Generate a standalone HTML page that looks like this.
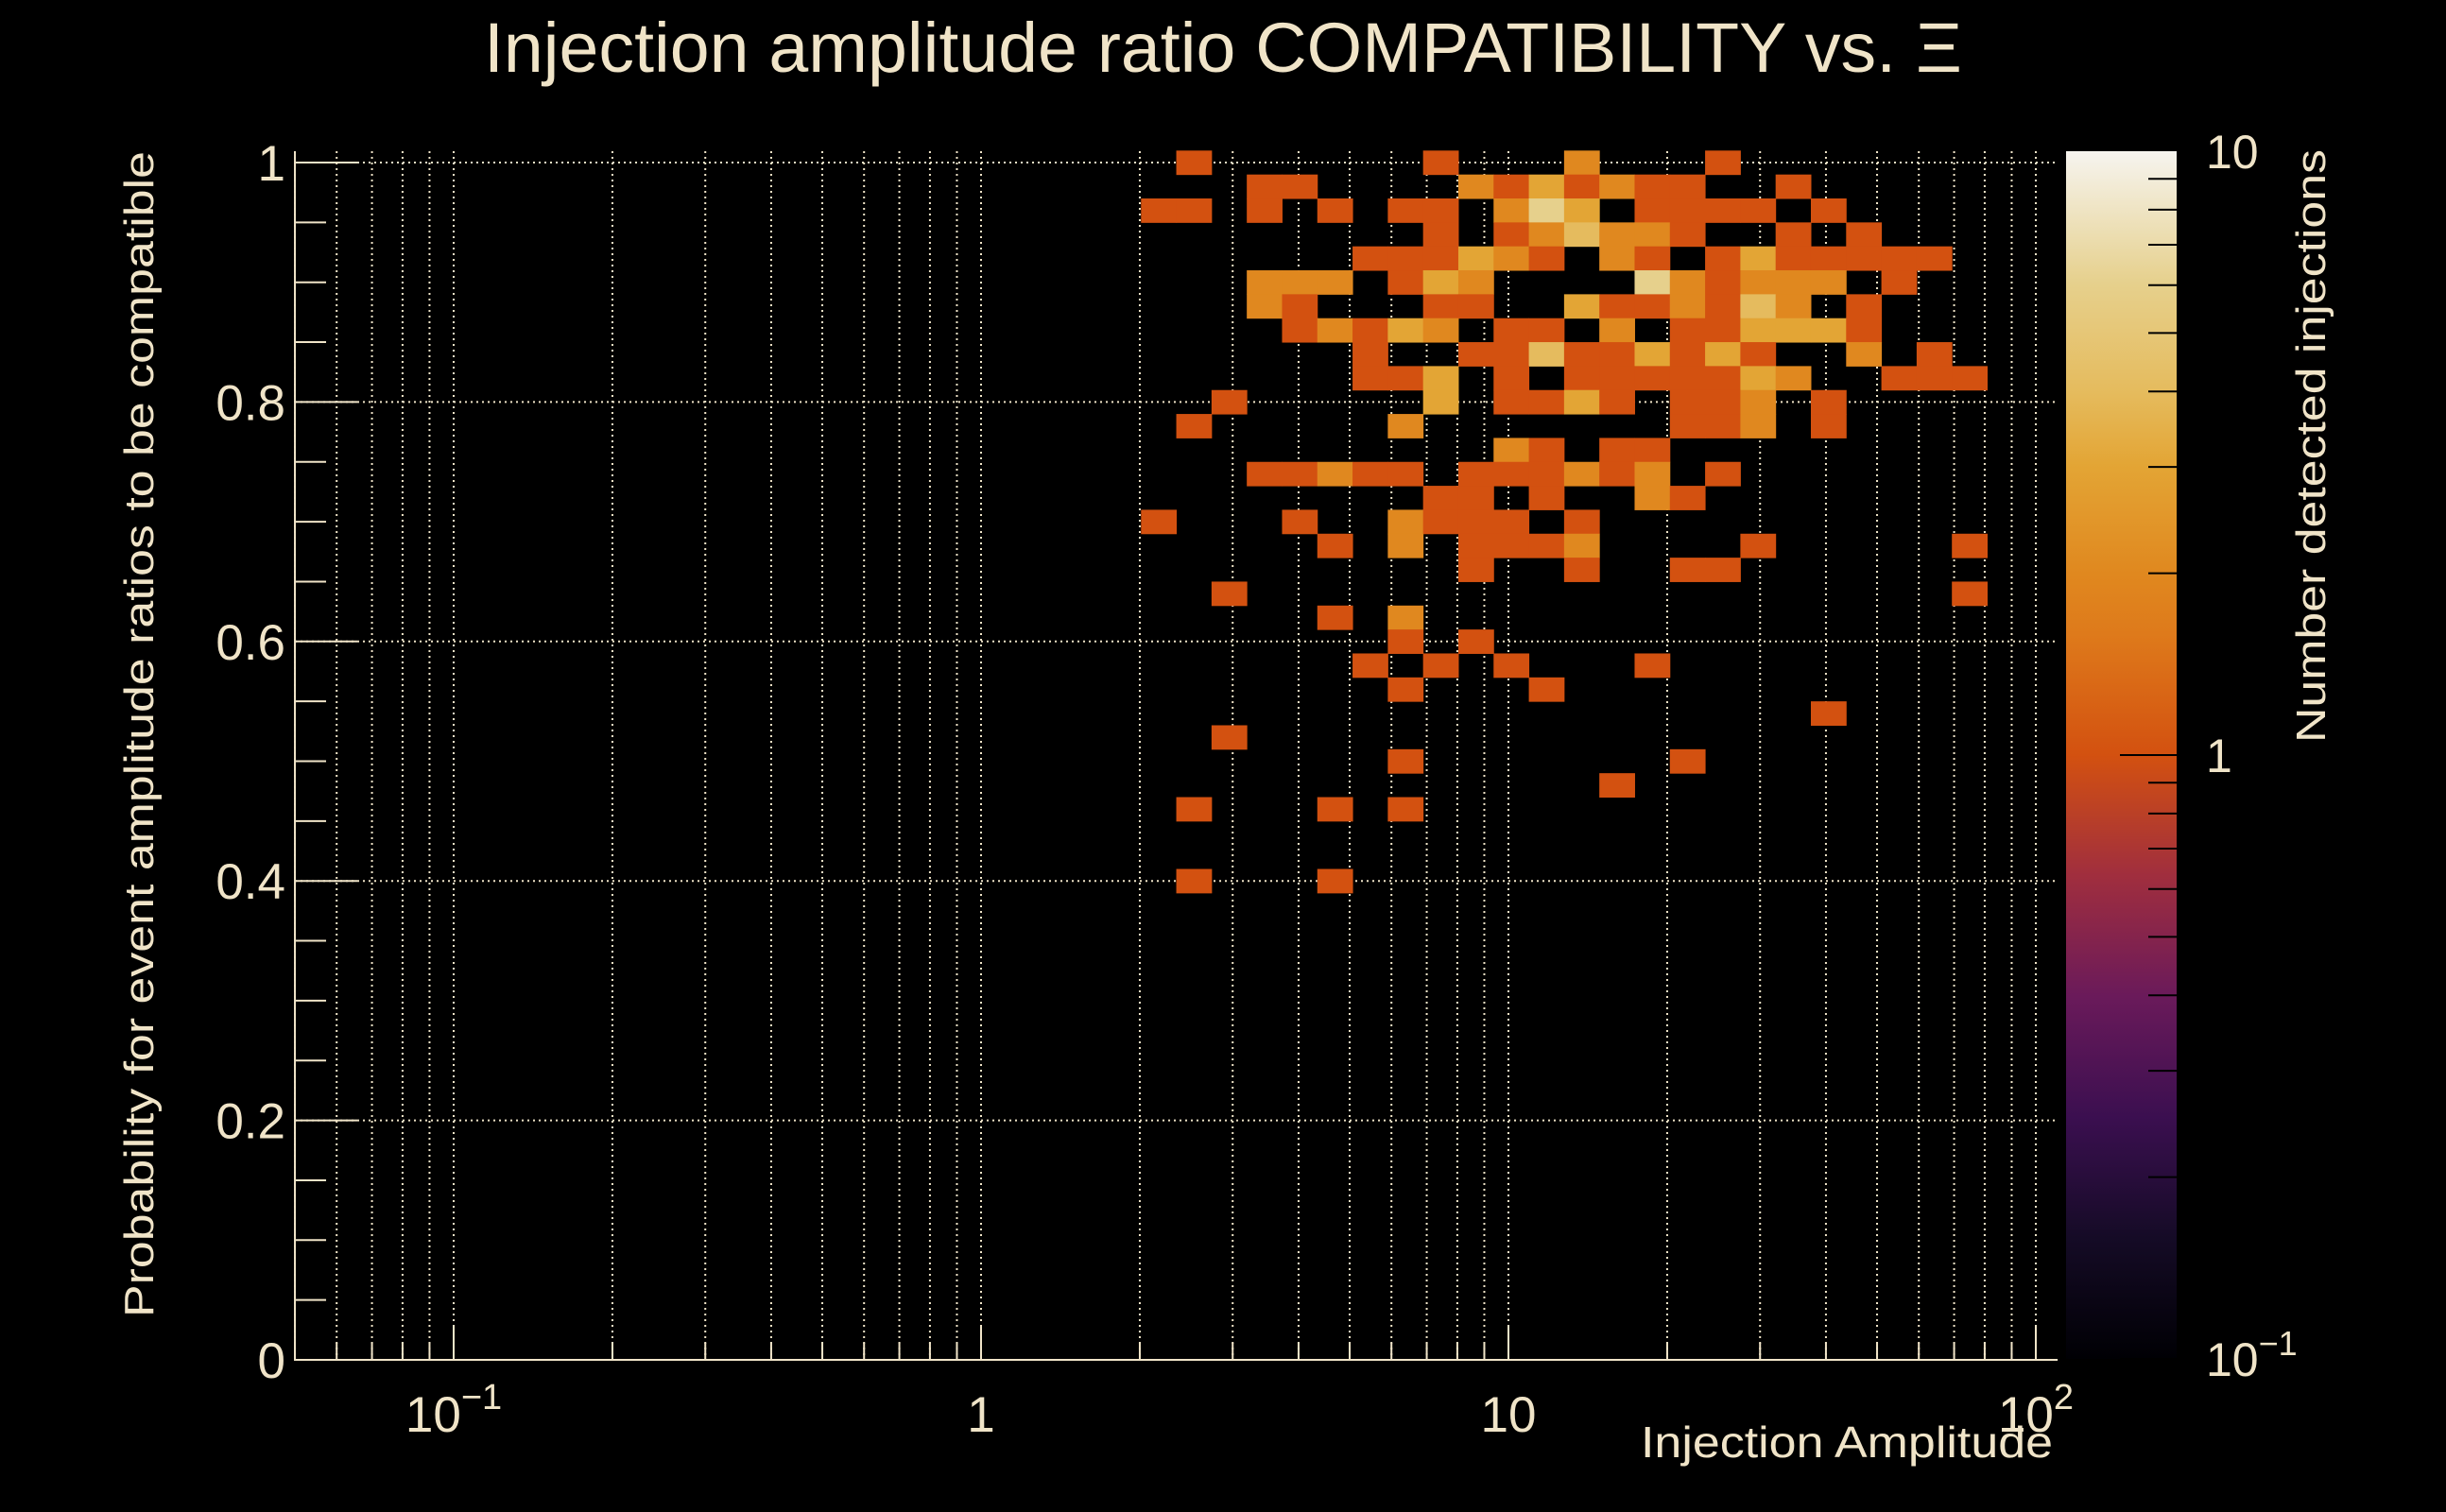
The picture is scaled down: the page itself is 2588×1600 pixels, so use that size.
<!DOCTYPE html>
<html><head><meta charset="utf-8"><style>
html,body{margin:0;padding:0;background:#000;}
svg{display:block;font-family:"Liberation Sans",sans-serif;}
</style></head><body>
<svg id="chart" width="2588" height="1600" viewBox="0 0 2588 1600" xmlns="http://www.w3.org/2000/svg">
<defs>
<linearGradient id="cbgrad" x1="0" y1="1" x2="0" y2="0">
<stop offset="0" stop-color="#000004"/>
<stop offset="0.1" stop-color="#150b26"/>
<stop offset="0.2" stop-color="#3b0f50"/>
<stop offset="0.3" stop-color="#6a1a5a"/>
<stop offset="0.4" stop-color="#a02e3e"/>
<stop offset="0.5" stop-color="#d35110"/>
<stop offset="0.6" stop-color="#de7a1b"/>
<stop offset="0.65" stop-color="#e0881f"/>
<stop offset="0.74" stop-color="#e3a535"/>
<stop offset="0.8" stop-color="#e5bb5d"/>
<stop offset="0.89" stop-color="#e6d08c"/>
<stop offset="1" stop-color="#f6f4ef"/>
</linearGradient>
</defs>
<rect width="2588" height="1600" fill="#000"/>
<text x="1294" y="76" text-anchor="middle" font-size="74" fill="#f0e4c8" textLength="1564" lengthAdjust="spacingAndGlyphs">Injection amplitude ratio COMPATIBILITY vs.  Ξ</text>
<g id="grid"></g>
<g id="cells"></g>
<g id="axes"></g>
<g id="colorbar"></g>
<text transform="translate(162,777) rotate(-90)" text-anchor="middle" font-size="44" fill="#f0e4c8" textLength="1234" lengthAdjust="spacingAndGlyphs">Probability for event amplitude ratios to be compatible</text>
<text x="2172" y="1542" text-anchor="end" font-size="46" fill="#f0e4c8" textLength="436" lengthAdjust="spacingAndGlyphs">Injection Amplitude</text>
<text transform="translate(2460,472) rotate(-90)" text-anchor="middle" font-size="44" fill="#f0e4c8" textLength="628" lengthAdjust="spacingAndGlyphs">Number detected injections</text>
</svg>
<script>
// ---- data ----
const probRows = [1.00,0.98,0.96,0.94,0.92,0.90,0.88,0.86,0.84,0.82,0.80,0.78,0.76,0.74,0.72,0.70,0.68,0.66,0.64,0.62,0.60,0.58,0.56,0.54,0.52,0.50,0.48,0.46,0.40];
const ampBins = [
[25,32,36,40],
[27,28,33,34,35,36,37,38,39,42],
[24,25,27,29,31,32,34,35,36,38,39,40,41,43],
[32,34,35,36,37,38,39,42,44],
[30,31,32,33,34,35,37,38,40,41,42,43,44,45,46],
[27,28,29,31,32,33,38,39,40,41,42,43,45],
[27,28,32,33,36,37,38,39,40,41,42,44],
[28,29,30,31,32,34,35,37,39,40,41,42,43,44],
[30,33,34,35,36,37,38,39,40,41,44,46],
[30,31,32,34,36,37,38,39,40,41,42,45,46,47],
[26,32,34,35,36,37,39,40,41,43],
[25,31,39,40,41,43],
[34,35,37,38],
[27,28,29,30,31,33,34,35,36,37,38,40],
[32,33,35,38,39],
[24,28,31,32,33,34,36],
[29,31,33,34,35,36,41,47],
[33,36,39,40],
[26,47],
[29,31],
[31,33],
[30,32,34,38],
[31,35],
[43],
[26],
[31,39],
[37],
[25,29,31],
[25,29]
];
const counts = [
[1,1,2,1],
[1,1,2,1,3,1,2,1,1,1],
[1,1,1,1,1,1,2,6,3,1,1,1,1,1],
[1,1,2,4,2,2,1,1,1],
[1,1,1,3,2,1,2,1,1,3,1,1,1,1,1],
[2,2,2,1,3,2,6,2,1,2,2,2,1],
[2,1,1,1,3,1,1,2,1,4,2,1],
[1,2,1,3,2,1,1,2,1,1,3,3,3,1],
[1,1,1,4,1,1,3,1,3,1,2,1],
[1,1,3,1,1,1,1,1,1,3,2,1,1,1],
[1,3,1,1,3,1,1,1,2,1],
[1,2,1,1,2,1],
[2,1,1,1],
[1,1,2,1,1,1,1,1,2,1,2,1],
[1,1,1,2,1],
[1,1,2,1,1,1,1],
[1,2,1,1,1,2,1,1],
[1,1,1,1],
[1,1],
[1,2],
[1,1],
[1,1,1,1],
[1,1],
[1],
[1],
[1,1],
[1],
[1,1,1],
[1,1]
];
const xTickVals = [0.1, 1, 10, 100];
const xTickLabels = ["10", "1", "10", "10"];
const xTickExps = ["−1", "", "", "2"];
const yTickVals = [0, 0.2, 0.4, 0.6, 0.8, 1];
const yTickLabels = ["0", "0.2", "0.4", "0.6", "0.8", "1"];
const zTickVals = [0.1, 1, 10];
const zTickLabels = ["10", "1", "10"];
const zTickExps = ["−1", "", ""];

// ---- axes ----
const NS = "http://www.w3.org/2000/svg";
const X10 = 1596, XD = 558;           // pixel of 10, pixels per decade
const XMIN = 0.05, XMAX = 110, NXB = 50;
const Y0 = 1439, YS = 1267;
const YBW = 0.02;
const xPix = v => X10 + XD * (Math.log10(v) - 1);
const yPix = v => Y0 - YS * v;
const L = xPix(XMIN), R = xPix(XMAX);
const binEdge = k => Math.pow(10, Math.log10(XMIN) + k * (Math.log10(XMAX) - Math.log10(XMIN)) / NXB);
const ZT = 160, ZB = 1438;
const zPix = v => ZB - (ZB - ZT) * (Math.log10(v) + 1) / 2;
const C = "#f0e4c8";

function mk(tag, attrs, parent) {
  const e = document.createElementNS(NS, tag);
  for (const k in attrs) e.setAttribute(k, attrs[k]);
  parent.appendChild(e);
  return e;
}

const grid = document.getElementById('grid');
for (let d = -2; d <= 2; d++) {
  for (let m = 1; m <= 9; m++) {
    const v = m * Math.pow(10, d);
    if (v < XMIN || v > XMAX) continue;
    const x = xPix(v);
    const gl = mk('line', {x1: x, x2: x, y1: 160, y2: Y0, stroke: C, 'stroke-width': 2, 'stroke-dasharray': '2 4'}, grid);
    
    
  }
}
yTickVals.forEach(v => {
  if (v === 0) return;
  const y = yPix(v);
  const gl = mk('line', {x1: L, x2: R, y1: y, y2: y, stroke: C, 'stroke-width': 2, 'stroke-dasharray': '2 4'}, grid);
  
  
});

const stops = [[0,[0,0,4]],[0.1,[21,11,38]],[0.2,[59,15,80]],[0.3,[106,26,90]],[0.4,[160,46,62]],[0.5,[211,81,16]],[0.6,[222,122,27]],[0.65,[224,136,31]],[0.74,[227,165,53]],[0.8,[229,187,93]],[0.89,[230,208,140]],[1,[246,244,239]]];
function colorFor(c) {
  let f = (Math.log10(c) + 1) / 2;
  f = Math.max(0, Math.min(1, f));
  for (let i = 1; i < stops.length; i++) {
    if (f <= stops[i][0]) {
      const a = stops[i-1], b = stops[i];
      const t = (f - a[0]) / (b[0] - a[0]);
      const rgb = a[1].map((q, j) => Math.round(q + (b[1][j] - q) * t));
      return 'rgb(' + rgb.join(',') + ')';
    }
  }
  return 'rgb(246,244,239)';
}

const cells = document.getElementById('cells');
probRows.forEach((p, ri) => {
  ampBins[ri].forEach((k, ci) => {
    const x1 = xPix(binEdge(k)), x2 = xPix(binEdge(k + 1));
    const y1 = yPix(p + YBW / 2), y2 = yPix(p - YBW / 2);
    const r = mk('rect', {x: x1, y: y1, width: x2 - x1 + 0.5, height: y2 - y1 + 0.5, fill: colorFor(counts[ri][ci])}, cells);
    
    
  });
});

const axes = document.getElementById('axes');
const yAxis = mk('line', {x1: L, x2: L, y1: 160, y2: Y0 + 1, stroke: C, 'stroke-width': 2}, axes);


const xAxis = mk('line', {x1: L, x2: R, y1: Y0, y2: Y0, stroke: C, 'stroke-width': 2}, axes);


for (let i = 0; i <= 20; i++) {
  const v = i * 0.05;
  const y = yPix(v);
  const major = (i % 4 === 0);
  const t = mk('line', {x1: L, x2: L + (major ? 66 : 33), y1: y, y2: y, stroke: C, 'stroke-width': 2}, axes);
  
  
}
yTickVals.forEach((v, i) => {
  const t = mk('text', {x: 302, y: yPix(v) + 19, 'text-anchor': 'end', 'font-size': 53, fill: C}, axes);
  t.textContent = yTickLabels[i];
  
  
});
for (let d = -2; d <= 2; d++) {
  for (let m = 1; m <= 9; m++) {
    const v = m * Math.pow(10, d);
    if (v < XMIN || v > XMAX) continue;
    const x = xPix(v);
    const t = mk('line', {x1: x, x2: x, y1: Y0, y2: Y0 - (m === 1 ? 36 : 18), stroke: C, 'stroke-width': 2}, axes);
    
    
  }
}
xTickVals.forEach((v, i) => {
  const t = mk('text', {x: xPix(v), y: 1515, 'text-anchor': 'middle', 'font-size': 53, fill: C}, axes);
  
  
  const base = document.createElementNS(NS, 'tspan');
  base.textContent = xTickLabels[i];
  t.appendChild(base);
  if (xTickExps[i]) {
    const sup = document.createElementNS(NS, 'tspan');
    sup.setAttribute('dy', -24);
    sup.setAttribute('font-size', 38);
    sup.textContent = xTickExps[i];
    t.appendChild(sup);
  }
});

const cb = document.getElementById('colorbar');
const bar = mk('rect', {x: 2186, y: ZT, width: 117, height: ZB - ZT, fill: 'url(#cbgrad)'}, cb);


for (let d = -1; d <= 0; d++) {
  for (let m = 1; m <= 9; m++) {
    const v = m * Math.pow(10, d);
    const y = zPix(v);
    const t = mk('line', {x1: 2303 - (m === 1 ? 60 : 30), x2: 2303, y1: y, y2: y, stroke: '#000', 'stroke-width': 2}, cb);
    
    
  }
}
zTickVals.forEach((v, i) => {
  const t = mk('text', {x: 2334, y: zPix(v) + 18, 'text-anchor': 'start', 'font-size': 50, fill: C}, cb);
  
  
  const base = document.createElementNS(NS, 'tspan');
  base.textContent = zTickLabels[i];
  t.appendChild(base);
  if (zTickExps[i]) {
    const sup = document.createElementNS(NS, 'tspan');
    sup.setAttribute('dy', -22);
    sup.setAttribute('font-size', 36);
    sup.textContent = zTickExps[i];
    t.appendChild(sup);
  }
});
</script>
</body></html>
